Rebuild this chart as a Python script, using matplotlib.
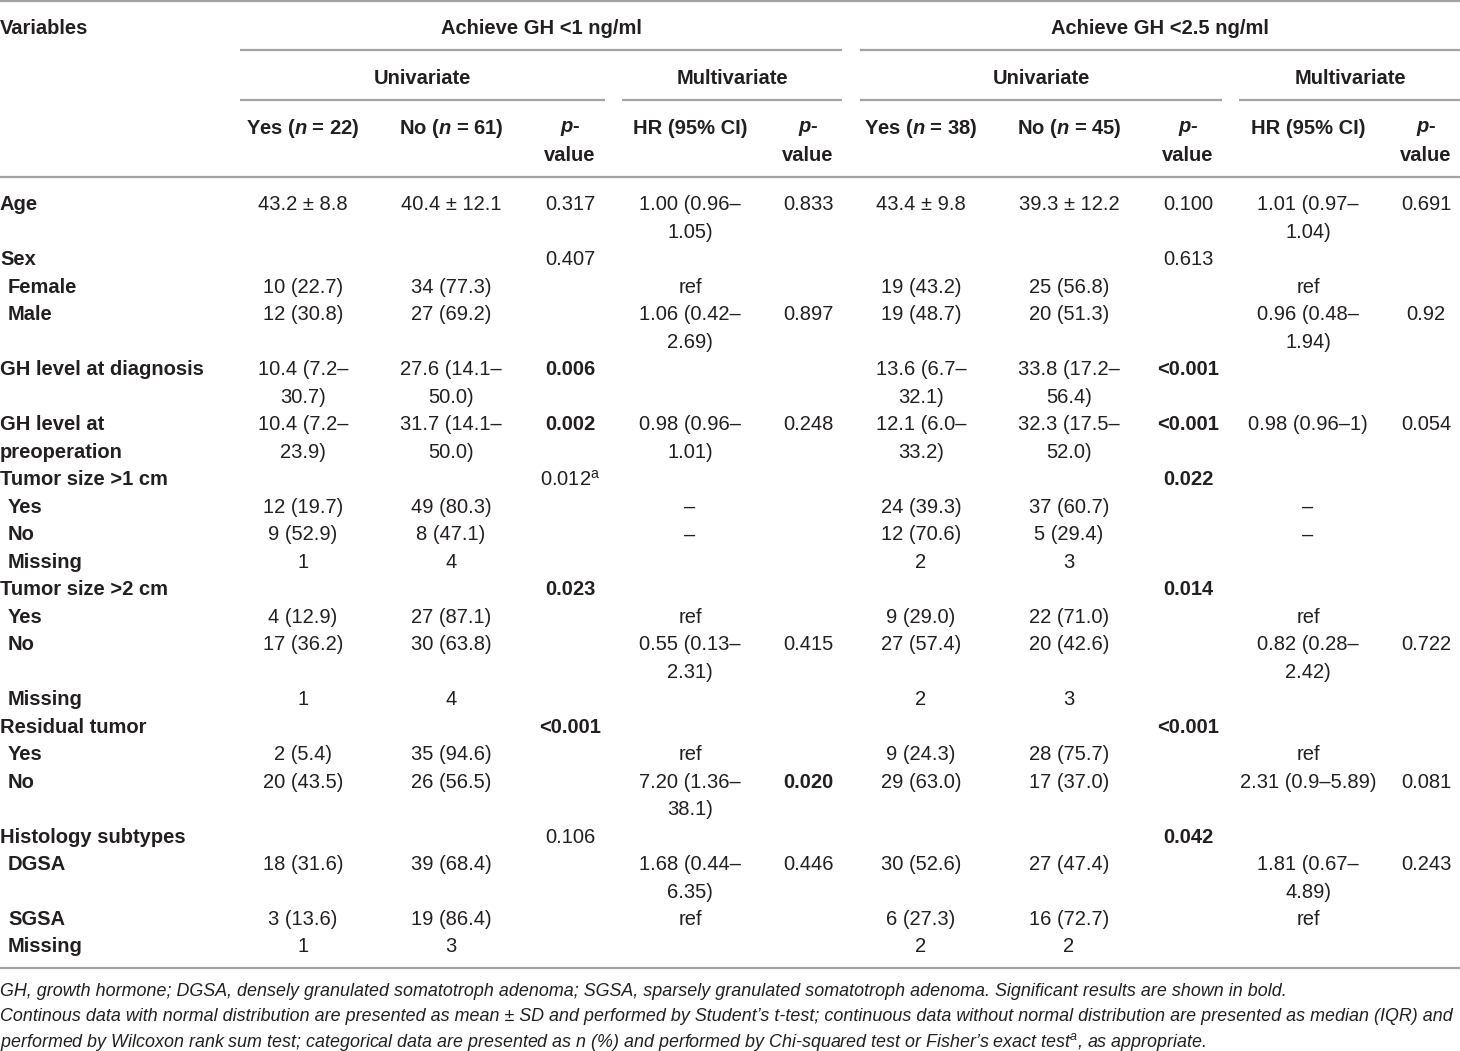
import matplotlib
matplotlib.use('Agg')
import matplotlib.pyplot as plt

plt.rcParams['font.family'] = ['Liberation Sans', 'DejaVu Sans']
plt.rcParams['mathtext.fontset'] = 'custom'
plt.rcParams['mathtext.rm'] = 'Liberation Sans'
plt.rcParams['mathtext.it'] = 'Liberation Sans:italic'
plt.rcParams['mathtext.bf'] = 'Liberation Sans:bold'
plt.rcParams['mathtext.bfit'] = 'Liberation Sans:italic:bold'

# ---- table data ----
row_labels = ['Age', 'Sex', 'Female', 'Male', 'GH level at diagnosis',
              'GH level at\npreoperation', 'Tumor size >1 cm', 'Yes', 'No',
              'Missing', 'Tumor size >2 cm', 'Yes', 'No', 'Missing',
              'Residual tumor', 'Yes', 'No', 'Histology subtypes', 'DGSA',
              'SGSA', 'Missing']
row_indent = [0, 0, 1, 1, 0, 0, 0, 1, 1, 1, 0, 1, 1, 1, 0, 1, 1, 0, 1, 1, 1]

yes_1 = ['43.2 ± 8.8', '', '10 (22.7)', '12 (30.8)', '10.4 (7.2–\n30.7)',
         '10.4 (7.2–\n23.9)', '', '12 (19.7)', '9 (52.9)', '1', '',
         '4 (12.9)', '17 (36.2)', '1', '', '2 (5.4)', '20 (43.5)', '',
         '18 (31.6)', '3 (13.6)', '1']
no_1 = ['40.4 ± 12.1', '', '34 (77.3)', '27 (69.2)', '27.6 (14.1–\n50.0)',
        '31.7 (14.1–\n50.0)', '', '49 (80.3)', '8 (47.1)', '4', '',
        '27 (87.1)', '30 (63.8)', '4', '', '35 (94.6)', '26 (56.5)', '',
        '39 (68.4)', '19 (86.4)', '3']
p_uni_1 = ['0.317', '0.407', '', '', '0.006', '0.002', '0.012$^\\mathrm{a}$',
           '', '', '', '0.023', '', '', '', '<0.001', '', '', '0.106', '',
           '', '']
hr_1 = ['1.00 (0.96–\n1.05)', '', 'ref', '1.06 (0.42–\n2.69)', '',
        '0.98 (0.96–\n1.01)', '', '–', '–', '', '', 'ref',
        '0.55 (0.13–\n2.31)', '', '', 'ref', '7.20 (1.36–\n38.1)', '',
        '1.68 (0.44–\n6.35)', 'ref', '']
p_multi_1 = ['0.833', '', '', '0.897', '', '0.248', '', '', '', '', '', '',
             '0.415', '', '', '', '0.020', '', '0.446', '', '']
yes_2 = ['43.4 ± 9.8', '', '19 (43.2)', '19 (48.7)', '13.6 (6.7–\n32.1)',
         '12.1 (6.0–\n33.2)', '', '24 (39.3)', '12 (70.6)', '2', '',
         '9 (29.0)', '27 (57.4)', '2', '', '9 (24.3)', '29 (63.0)', '',
         '30 (52.6)', '6 (27.3)', '2']
no_2 = ['39.3 ± 12.2', '', '25 (56.8)', '20 (51.3)', '33.8 (17.2–\n56.4)',
        '32.3 (17.5–\n52.0)', '', '37 (60.7)', '5 (29.4)', '3', '',
        '22 (71.0)', '20 (42.6)', '3', '', '28 (75.7)', '17 (37.0)', '',
        '27 (47.4)', '16 (72.7)', '2']
p_uni_2 = ['0.100', '0.613', '', '', '<0.001', '<0.001', '0.022', '', '', '',
           '0.014', '', '', '', '<0.001', '', '', '0.042', '', '', '']
hr_2 = ['1.01 (0.97–\n1.04)', '', 'ref', '0.96 (0.48–\n1.94)', '',
        '0.98 (0.96–1)', '', '–', '–', '', '', 'ref', '0.82 (0.28–\n2.42)',
        '', '', 'ref', '2.31 (0.9–5.89)', '', '1.81 (0.67–\n4.89)', 'ref', '']
p_multi_2 = ['0.691', '', '', '0.92', '', '0.054', '', '', '', '', '', '',
             '0.722', '', '', '', '0.081', '', '0.243', '', '']

# significant (bold) cells: (row, column)
bold_cells = [(4, 2), (5, 2), (10, 2), (14, 2), (16, 4),
              (4, 7), (5, 7), (6, 7), (10, 7), (14, 7), (17, 7)]

col_headers = ['Yes ($\\mathbfit{n}$ = 22)', 'No ($\\mathbfit{n}$ = 61)',
               '$\\mathbfit{p}$-\nvalue', 'HR (95% CI)', '$\\mathbfit{p}$-\nvalue',
               'Yes ($\\mathbfit{n}$ = 38)', 'No ($\\mathbfit{n}$ = 45)',
               '$\\mathbfit{p}$-\nvalue', 'HR (95% CI)', '$\\mathbfit{p}$-\nvalue']
footnotes = [
    'GH, growth hormone; DGSA, densely granulated somatotroph adenoma; SGSA, '
    'sparsely granulated somatotroph adenoma. Significant results are shown in bold.',
    'Continous data with normal distribution are presented as mean ± SD and performed '
    'by Student’s t-test; continuous data without normal distribution are presented '
    'as median (IQR) and',
    'performed by Wilcoxon rank sum test; categorical data are presented as n (%) and '
    'performed by Chi-squared test or Fisher’s exact test$^{\\mathit{a}}$, as appropriate.',
]

columns = [yes_1, no_1, p_uni_1, hr_1, p_multi_1,
           yes_2, no_2, p_uni_2, hr_2, p_multi_2]

# ---- layout (pixels) ----
W, H = 1460, 1051
col_x = [303, 451, 570, 690, 808, 921, 1069, 1188, 1308, 1426]
line_h = 27.48
first_y = 205
fs = 14.5
txt = '#231f20'
rule = '#a3a3a3'

fig = plt.figure(figsize=(W / 100, H / 100), dpi=100)
ax = fig.add_axes([0, 0, 1, 1])
ax.set_xlim(0, W)
ax.set_ylim(H, 0)
ax.axis('off')


def put(x, y, s, ha='center', bold=False, size=fs, style='normal'):
    for k, part in enumerate(s.split('\n')):
        ax.text(x, y + k * line_h, part, ha=ha, va='center', fontsize=size,
                fontweight='bold' if bold else 'normal', fontstyle=style,
                color=txt)


# rules
ax.hlines([1, 177, 968], 0, W, color=rule, lw=1.6)
ax.hlines([50, 50], [240, 860], [842, 1460], color=rule, lw=1.6)
ax.hlines([100] * 4, [240, 622, 860, 1239], [605, 842, 1222, 1460],
          color=rule, lw=1.6)

# headers
put(0, 28, 'Variables', ha='left', bold=True)
put(541, 28, 'Achieve GH <1 ng/ml', bold=True)
put(1160, 28, 'Achieve GH <2.5 ng/ml', bold=True)
for cx in [422, 1041]:
    put(cx, 78, 'Univariate', bold=True)
for cx in [732, 1350]:
    put(cx, 78, 'Multivariate', bold=True)
for cx, h in zip(col_x, col_headers):
    put(cx, 128, h, bold=True)

# body
y = first_y
for i, lab in enumerate(row_labels):
    put(row_indent[i] * 8, y, lab, ha='left', bold=True)
    n_lines = lab.count('\n') + 1
    for j, col in enumerate(columns):
        put(col_x[j], y, col[i], bold=(i, j) in bold_cells)
        n_lines = max(n_lines, col[i].count('\n') + 1)
    y += n_lines * line_h

# footnotes
for k, note in enumerate(footnotes):
    put(0, 991 + k * 25.5, note, ha='left', size=12.9, style='italic')

fig.savefig('out.png', dpi=100)
